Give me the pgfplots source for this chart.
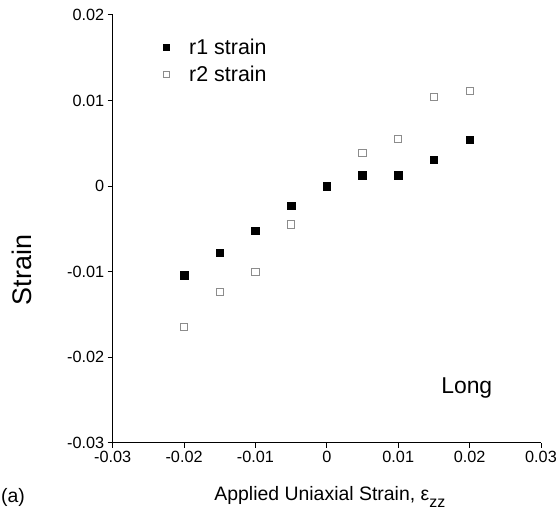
\documentclass[border=0pt]{standalone}
\usepackage{fontspec}
\setmainfont{Liberation Sans}
\usepackage{pgfplots}
\pgfplotsset{compat=1.18}
\definecolor{opengray}{HTML}{8C8C8C}
\begin{document}
\begin{tikzpicture}
\path[use as bounding box] (0,0) rectangle (558bp,520bp);
\begin{axis}[
  at={(112.7bp,77.3bp)}, anchor=south west,
  scale only axis, width=428.3bp, height=427.7bp,
  xmin=-0.03, xmax=0.03, ymin=-0.03, ymax=0.02,
  scaled ticks=false,
  axis x line*=bottom, axis y line*=left,
  axis line style={line width=1bp, black},
  tick align=outside, major tick length=5bp,
  tick style={line width=1bp, black},
  xtick={-0.03,-0.02,-0.01,0,0.01,0.02,0.03},
  xticklabels={-0.03,-0.02,-0.01,0,0.01,0.02,0.03},
  ytick={-0.03,-0.02,-0.01,0,0.01,0.02},
  yticklabels={-0.03,-0.02,-0.01,0,0.01,0.02},
  ticklabel style={font=\fontsize{16.3}{19}\selectfont},
  xlabel={Applied Uniaxial Strain, ε\raisebox{-0.6ex}{\fontsize{16}{19}\selectfont zz}},
  xlabel style={font=\fontsize{19.5}{23}\selectfont, at={(axis description cs:0.507,-0.127)}, anchor=center},
  ylabel={Strain},
  ylabel style={font=\fontsize{27}{31}\selectfont, at={(axis description cs:-0.212,0.404)}, anchor=center},
  legend style={draw=none, fill=none, at={(axis description cs:0.118,0.949)}, anchor=north west,
    font=\fontsize{21.5}{25}\selectfont, row sep=6bp, inner sep=0pt,
    /tikz/every odd column/.style={column sep=18bp}},
  legend cell align=left,
  legend image post style={mark size=2.9bp},
  clip=false,
]
\addplot[only marks, mark=square*, mark size=3.8bp, mark options={fill=black, draw=black, line width=0.5bp}]
  coordinates {(-0.02,-0.0104) (-0.015,-0.0078) (-0.01,-0.0052) (-0.005,-0.0023) (0,0.0)
               (0.005,0.0013) (0.01,0.0013) (0.015,0.0031) (0.02,0.0054)};
\addlegendentry{r1 strain}
\addplot[only marks, mark=square, mark size=3.6bp, mark options={draw=opengray, fill=white, line width=1bp}]
  coordinates {(-0.02,-0.0165) (-0.015,-0.0124) (-0.01,-0.0100) (-0.005,-0.0045)
               (0.005,0.0039) (0.01,0.0055) (0.015,0.0104) (0.02,0.0111)};
\addlegendentry{r2 strain}
\node[font=\fontsize{23}{27}\selectfont] at (axis cs:0.0196,-0.0236) {Long};
\end{axis}
\node[font=\fontsize{19.5}{23}\selectfont] at (13bp,23bp) {(a)};
\end{tikzpicture}
\end{document}
